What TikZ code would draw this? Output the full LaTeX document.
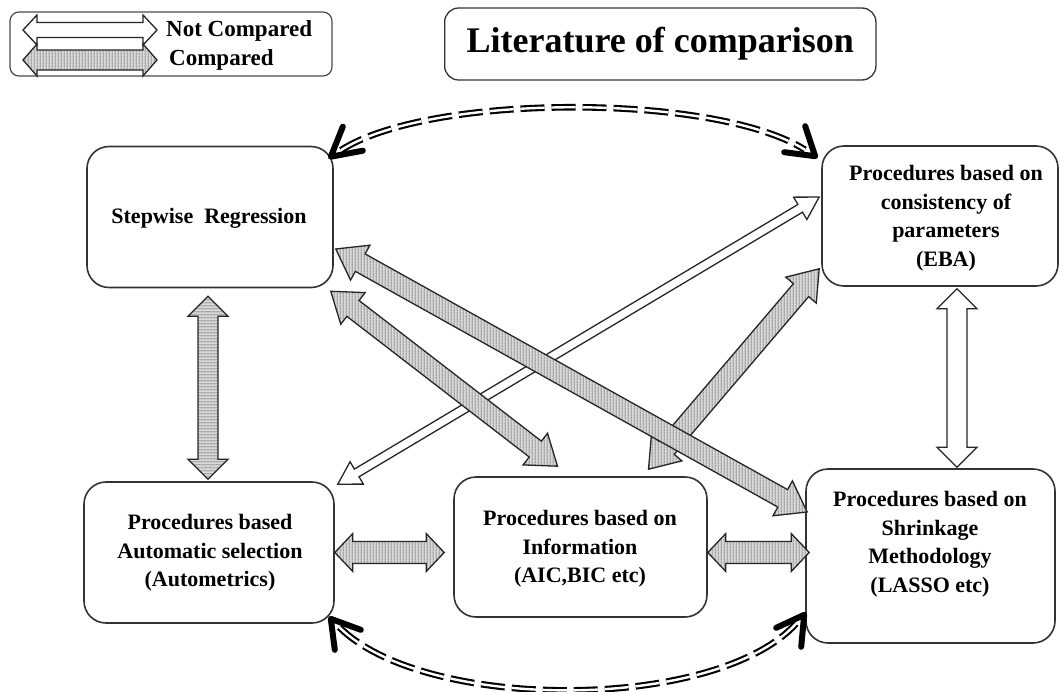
\documentclass[tikz,border=0pt]{standalone}
\usepackage{fontspec}
\setmainfont{Liberation Serif}
\usetikzlibrary{arrows.meta,patterns,calc}

\pgfdeclarepatternformonly{vstripes}{\pgfqpoint{0pt}{0pt}}{\pgfqpoint{3pt}{3pt}}{\pgfqpoint{3pt}{3pt}}{%
  \pgfsetlinewidth{0.9pt}\pgfpathmoveto{\pgfqpoint{1.5pt}{-0.5pt}}\pgfpathlineto{\pgfqpoint{1.5pt}{3.5pt}}\pgfusepath{stroke}}
\pgfdeclarepatternformonly{hstripes}{\pgfqpoint{0pt}{0pt}}{\pgfqpoint{3pt}{3pt}}{\pgfqpoint{3pt}{3pt}}{%
  \pgfsetlinewidth{0.9pt}\pgfpathmoveto{\pgfqpoint{-0.5pt}{1.5pt}}\pgfpathlineto{\pgfqpoint{3.5pt}{1.5pt}}\pgfusepath{stroke}}

\newcommand\blockarrow[6]{% #1 style, #2 from, #3 to, #4 shaft half, #5 head half, #6 head length
  \path let \p1=(#2), \p2=(#3) in \pgfextra{%
    \pgfmathparse{atan2((\y2)-(\y1),(\x2)-(\x1))}\xdef\baang{\pgfmathresult}%
    \pgfmathparse{veclen((\x2)-(\x1),(\y2)-(\y1))}\xdef\balen{\pgfmathresult}};
  \begin{scope}[shift={(#2)}, rotate=\baang]
    \path[#1] (0,0) -- (#6,#5) -- (#6,#4) -- (\balen-#6,#4) -- (\balen-#6,#5) -- (\balen,0)
      -- (\balen-#6,-#5) -- (\balen-#6,-#4) -- (#6,-#4) -- (#6,-#5) -- cycle;
  \end{scope}}

\tikzset{
  box/.style={draw=black!80, line width=1.6pt, rounded corners=22pt, inner sep=0pt},
  txt/.style={align=center, font=\fontsize{22}{28.5}\selectfont\bfseries, inner sep=0pt},
  legtxt/.style={anchor=west, font=\fontsize{23}{26}\selectfont\bfseries, inner sep=0pt},
  hatchv/.style={preaction={fill=gray!30}, preaction={pattern=vstripes, pattern color=black!70}, draw=black!85, line width=1.3pt, line join=miter},
  hatchh/.style={preaction={fill=gray!30}, preaction={pattern=hstripes, pattern color=black!70}, draw=black!85, line width=1.3pt, line join=miter},
  plain/.style={fill=white, draw=black!85, line width=1.3pt, line join=miter},
  dblarc/.style={draw=black, double=white, double distance=2.4pt, line width=2.1pt, dash pattern=on 24pt off 7pt, shorten <=12pt, shorten >=12pt},
  barb/.style={draw=black, line width=6pt, line cap=round, line join=round}
}

\begin{document}
\begin{tikzpicture}[x=1pt,y=-1pt]
\useasboundingbox (0,0) rectangle (1062,691);
\fill[white] (0,0) rectangle (1062,691);

% legend
\node[draw=black!70, line width=1.2pt, rounded corners=9pt, minimum width=322pt, minimum height=64pt, inner sep=0pt] (lg) at (171,44) {};
\coordinate (l1a) at (23,30);
\coordinate (l1b) at (157,30);
\coordinate (l2a) at (23,60);
\coordinate (l2b) at (157,60);
\blockarrow{plain}{l1a}{l1b}{7.5}{15}{14}
\blockarrow{hatchv}{l2a}{l2b}{10}{16}{14}
\node[legtxt] (t1) at (166,31) {Not Compared};
\node[legtxt] (t2) at (169,60) {Compared};

% title
\node[draw=black!80, line width=1.3pt, rounded corners=14pt, minimum height=72pt, inner xsep=22pt, anchor=west,
      font=\fontsize{36}{40}\selectfont\bfseries] (ti) at (444,44) {Literature of comparison};

% boxes
\node[box, minimum width=246pt, minimum height=141pt] (st) at (210,217) {};
\node[box, minimum width=236pt, minimum height=140pt] (eba) at (940,216) {};
\node[box, minimum width=250pt, minimum height=141pt] (au) at (209,552.5) {};
\node[box, minimum width=253pt, minimum height=140pt] (in) at (580.5,547) {};
\node[box, minimum width=249pt, minimum height=174pt] (sh) at (930.5,556) {};

\node[txt] (stt) at (209,218) {Stepwise\ \ Regression};
\node[txt] (ebat) at (946,218) {Procedures based on\\consistency of\\parameters\\(EBA)};
\node[txt] (aut) at (210,553) {Procedures based\\Automatic selection\\(Autometrics)};
\node[txt] (int) at (580,549) {Procedures based on\\Information\\(AIC,BIC etc)};
\node[txt] (sht) at (930,544) {Procedures based on\\Shrinkage\\Methodology\\(LASSO etc)};

% arrow end points
\coordinate (v1a) at ($(st.south)+(-2,8)$);
\coordinate (v1b) at ($(au.north)+(-1,-2)$);
\coordinate (h1a) at (au.east);
\coordinate (h1b) at ($(au.east -| in.west)+(-9,0)$);
\coordinate (h2a) at (in.east |- au.east);
\coordinate (h2b) at ($(sh.west |- au.east)+(4,0)$);
\coordinate (d1a) at ($(st.south east)+(-3,3)$);
\coordinate (d1b) at ($(in.north)+(-23,-10)$);
\coordinate (d2a) at ($(st.east)+(2,32)$);
\coordinate (d2b) at ($(sh.west)+(2,-44)$);
\coordinate (d3a) at ($(in.north)+(68,-7)$);
\coordinate (d3b) at ($(eba.south west)+(-2,-18)$);
\coordinate (w1a) at ($(au.north east)+(3,3)$);
\coordinate (w1b) at ($(eba.west)+(-2,-19)$);
\coordinate (w2a) at ($(eba.south)+(17,2)$);
\coordinate (w2b) at ($(sh.north)+(26.5,-1)$);

% not compared
\blockarrow{plain}{w1a}{w1b}{4.5}{13}{22}
\blockarrow{plain}{w2a}{w2b}{10}{20}{20}
% compared
\blockarrow{hatchh}{v1a}{v1b}{10}{20}{20}
\blockarrow{hatchv}{h1a}{h1b}{11}{19}{18}
\blockarrow{hatchv}{h2a}{h2b}{11}{19}{18}
\blockarrow{hatchv}{d3a}{d3b}{10}{20}{28}
\blockarrow{hatchv}{d1a}{d1b}{10}{20}{28}
\blockarrow{hatchv}{d2a}{d2b}{10}{20}{28}

% dashed arcs (not compared)
\coordinate (ca) at ($(st.north east)+(-3,11)$);
\coordinate (cb) at ($(eba.north west)+(-6,11)$);
\coordinate (cc) at ($(au.south east)+(-4,-5)$);
\coordinate (cd) at ($(sh.south west)+(-1,-29)$);
\draw[dblarc] (ca) .. controls (430,93) and (715,93) .. (cb);
\draw[dblarc] (cc) .. controls (425,712) and (715,712) .. (cd);
\draw[barb] ($(ca)+(12,-30)$) -- (ca) -- ($(ca)+(32,-6)$);
\draw[barb] ($(cb)+(-10,-30)$) -- (cb) -- ($(cb)+(-31,-4)$);
\draw[barb] ($(cc)+(4,31)$) -- (cc) -- ($(cc)+(30,11)$);
\draw[barb] ($(cd)+(-3,32)$) -- (cd) -- ($(cd)+(-28,13)$);
\end{tikzpicture}
\end{document}
